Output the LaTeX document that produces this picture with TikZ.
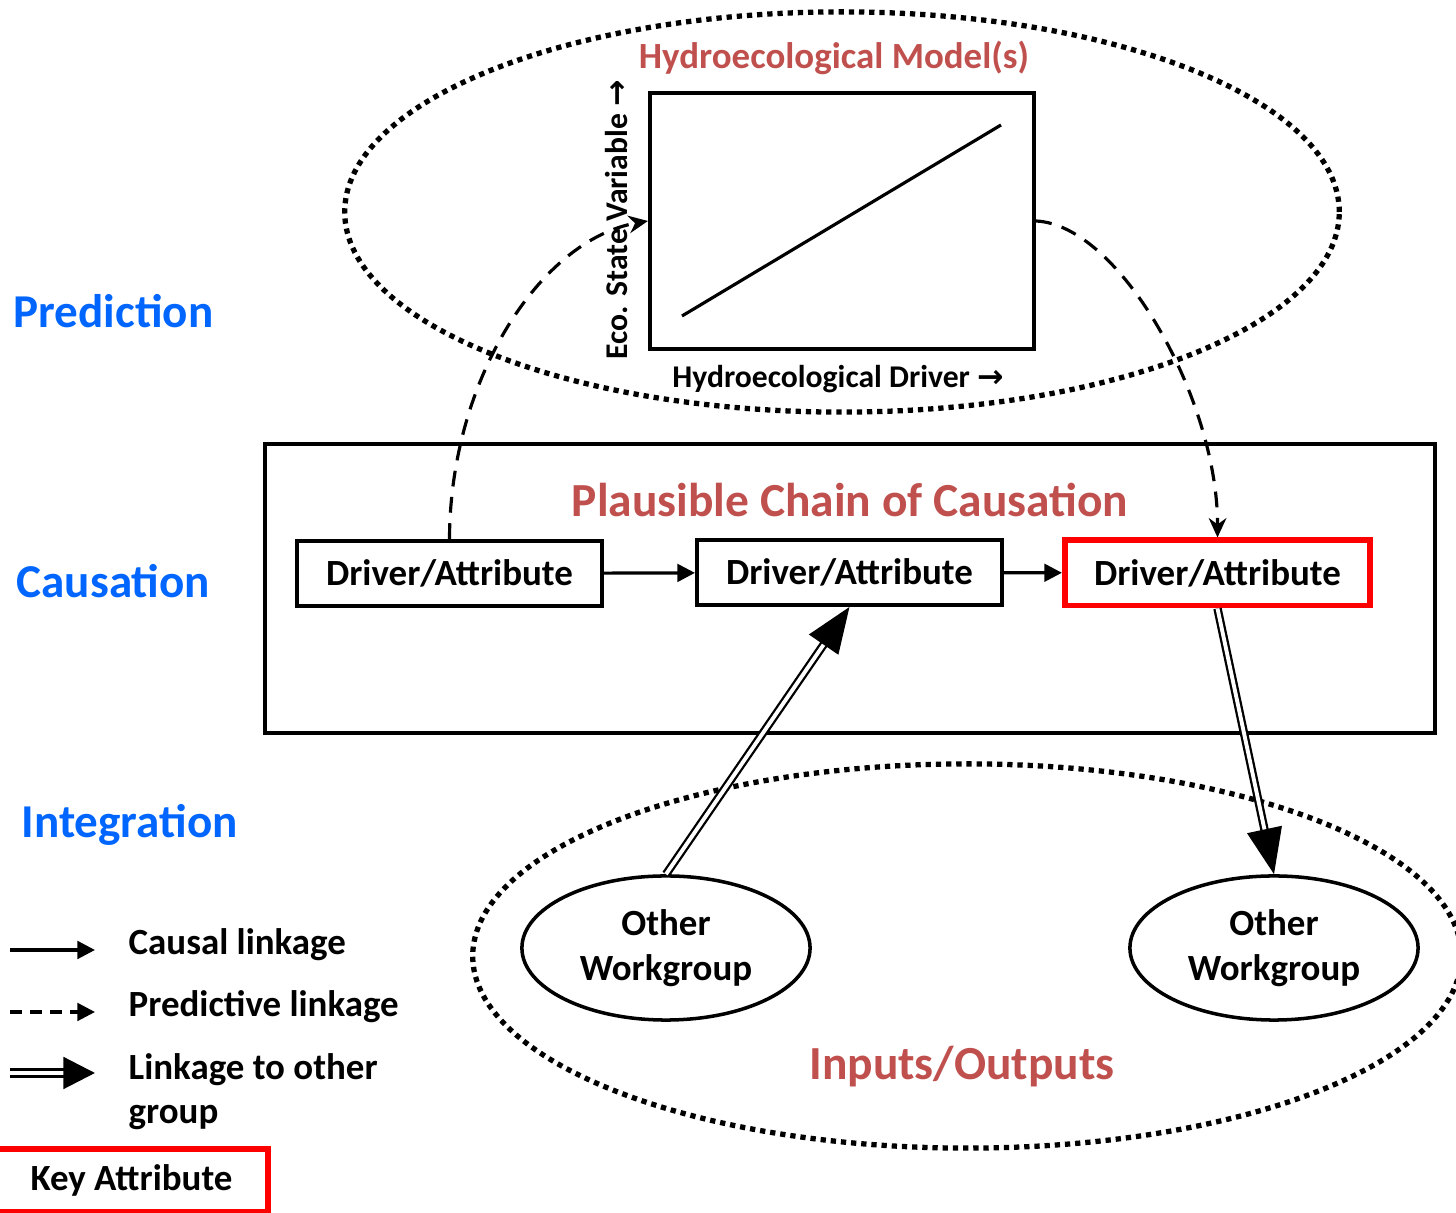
\documentclass[tikz,border=0pt]{standalone}
\usepackage{fontspec}
\setmainfont{Carlito}
\newfontfamily\arrowfont{DejaVu Sans}
\usetikzlibrary{shapes.geometric,arrows.meta}
\definecolor{stageblue}{RGB}{0,102,255}
\definecolor{titlered}{RGB}{192,80,77}
\newcommand{\bodyfont}{\fontsize{10.5}{12.7}\selectfont\bfseries}
\tikzset{
  dabox/.style={draw,line width=1.1pt,minimum width=3.05cm,minimum height=0.65cm,inner sep=0pt,font=\bodyfont},
  keybox/.style={dabox,draw=red,line width=1.7pt},
  group/.style={draw,ellipse,line width=1pt,minimum width=2.88cm,minimum height=1.44cm,inner sep=0pt,align=center,font=\bodyfont},
  stage/.style={anchor=base west,inner sep=0pt,text=stageblue,font=\fontsize{13.4}{16}\selectfont\bfseries},
  heading/.style={anchor=base,inner sep=0pt,text=titlered,font=\fontsize{13.5}{16}\selectfont\bfseries},
  legend/.style={anchor=base west,inner sep=0pt,align=left,font=\bodyfont},
  axis/.style={inner sep=0pt,font=\fontsize{9}{11}\selectfont\bfseries},
  zone/.style={line width=1.5pt,dash pattern=on 1.5pt off 1.4pt},
  cause/.style={line width=0.9pt,-{Triangle[length=5pt,width=5pt]}},
  predict/.style={line width=0.9pt,dash pattern=on 4.5pt off 3pt,-{Stealth[length=5.5pt,width=5pt]}},
  link/.style={double,double distance=1.1pt,line width=0.65pt,-{Triangle[length=13pt,width=10pt]}}
}
\begin{document}
\begin{tikzpicture}[x=0.01cm,y=-0.01cm]
  \useasboundingbox (0,0) rectangle (1456,1213);

  % zones
  \draw[zone] (842,212) ellipse [x radius=4.97cm,y radius=2.00cm];
  \draw[zone] (967,956) ellipse [x radius=4.94cm,y radius=1.92cm];
  \draw[line width=1.1pt] (265,444) rectangle (1435,733);

  % stages
  \node[stage] (pred) at (13,328) {Prediction};
  \node[stage] (caus) at (16,598) {Causation};
  \node[stage] (integ) at (21,838) {Integration};

  % model
  \node[heading,font=\bodyfont] (model) at (834,69) {Hydroecological Model(s)};
  \node[draw,line width=1.1pt,minimum width=3.84cm,minimum height=2.56cm] (graph) at (842,221) {};
  \coordinate (lo) at (682,316);
  \coordinate (hi) at (1001,125);
  \draw[line width=0.9pt] (lo) -- (hi);
  \node[axis] (xlab) at (838,379) {Hydroecological Driver {\arrowfont →}};
  \node[axis,rotate=90] (ylab) at (617,220) {Eco. State Variable {\arrowfont →}};

  % chain
  \node[heading] (chain) at (850,517) {Plausible Chain of Causation};
  \node[dabox] (da1) at (449.5,573.5) {Driver/Attribute};
  \node[dabox] (da2) at (849.5,572.5) {Driver/Attribute};
  \node[keybox] (da3) at (1217.5,573) {Driver/Attribute};
  \draw[cause] (da1) -- (da2);
  \draw[cause] (da2) -- (da3);

  \draw[predict] (da1.north) .. controls (450,380) and (540,240) .. (graph.west);
  \draw[predict] (graph.east) .. controls (1120,225) and (1218,400) .. (da3.north);

  % groups
  \node[group] (ow1) at (666,948) {Other\\Workgroup};
  \node[group] (ow2) at (1274,948) {Other\\Workgroup};
  \node[heading] (io) at (962,1080) {Inputs/Outputs};
  \draw[link] (ow1.north) -- (da2.south);
  \draw[link] (da3.south) -- (ow2.north);

  % legend
  \coordinate (c1) at (10,950);
  \coordinate (c2) at (95,950);
  \coordinate (p1) at (10,1012);
  \coordinate (p2) at (95,1012);
  \coordinate (l1) at (10,1073);
  \coordinate (l2) at (95,1073);
  \draw[cause] (c1) -- (c2);
  \draw[predict,dash pattern=on 3.5pt off 2.2pt,-{Triangle[length=5pt,width=5pt]}] (p1) -- (p2);
  \draw[link,double distance=1pt,line width=0.9pt,-{Triangle[length=9pt,width=9pt]}] (l1) -- (l2);
  \node[legend] (lc) at (128,955) {Causal linkage};
  \node[legend] (lp) at (128,1017) {Predictive linkage};
  \node[legend] (ll) at (128,1124) {Linkage to other\\group};
  \node[keybox,minimum width=2.73cm,minimum height=0.63cm] (key) at (131.5,1180.5) {Key Attribute};
\end{tikzpicture}
\end{document}
